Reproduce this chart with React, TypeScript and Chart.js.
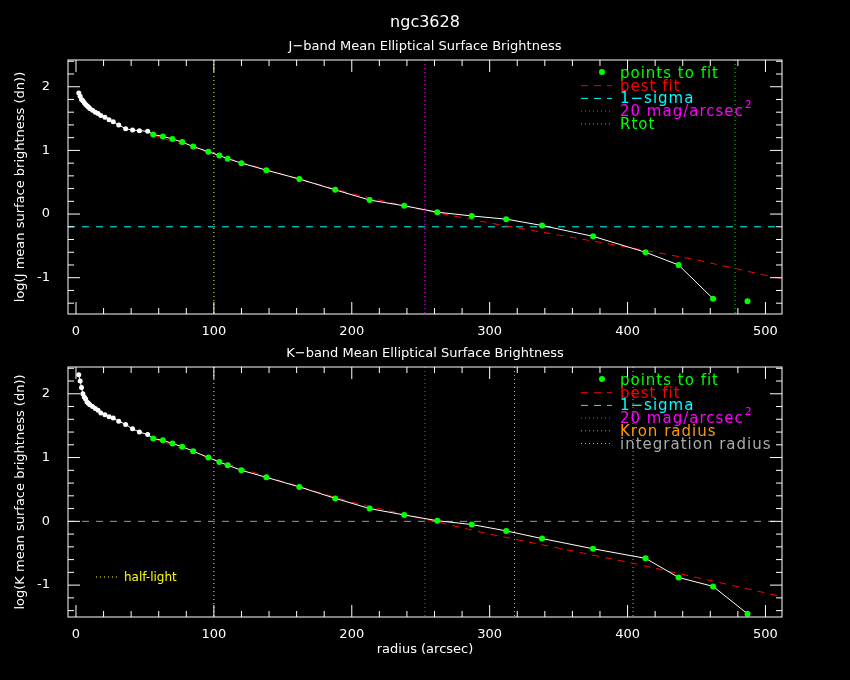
import { useEffect, useRef } from 'react';
import Chart from 'chart.js/auto';

// J band
const jInnerR = [2, 3, 4, 5, 6, 7, 8, 9, 10, 12, 14, 16, 18, 21, 24, 27, 31, 36, 41, 46, 52];
const jInnerY = [1.9, 1.85, 1.8, 1.78, 1.75, 1.72, 1.7, 1.68, 1.66, 1.63, 1.6, 1.58, 1.55, 1.52, 1.48, 1.45, 1.4, 1.34, 1.32, 1.31, 1.3];
const jFitR = [56, 63, 70, 77, 85, 96, 104, 110, 120, 138, 162, 188, 213, 238, 262, 287, 312, 338, 375, 413, 437, 462];
const jFitY = [1.25, 1.22, 1.18, 1.13, 1.06, 0.98, 0.92, 0.87, 0.8, 0.69, 0.55, 0.38, 0.22, 0.13, 0.03, -0.03, -0.08, -0.18, -0.35, -0.6, -0.8, -1.33];
const jExtraR = [487];
const jExtraY = [-1.37];
const jBestR = [56, 100, 150, 200, 250, 300, 350, 400, 450, 512];
const jBestY = [1.24, 0.94, 0.62, 0.32, 0.07, -0.14, -0.33, -0.52, -0.72, -1.02];

// K band
const kInnerR = [2, 3, 4, 5, 6, 7, 8, 9, 10, 12, 14, 16, 18, 21, 24, 27, 31, 36, 41, 46, 52];
const kInnerY = [2.3, 2.2, 2.1, 2.0, 1.95, 1.92, 1.87, 1.85, 1.83, 1.8, 1.77, 1.74, 1.7, 1.67, 1.64, 1.62, 1.57, 1.52, 1.45, 1.4, 1.36];
const kFitR = [56, 63, 70, 77, 85, 96, 104, 110, 120, 138, 162, 188, 213, 238, 262, 287, 312, 338, 375, 413, 437, 462, 487];
const kFitY = [1.3, 1.27, 1.22, 1.17, 1.1, 1.0, 0.93, 0.88, 0.8, 0.69, 0.54, 0.36, 0.2, 0.1, 0.01, -0.05, -0.15, -0.27, -0.43, -0.58, -0.88, -1.02, -1.45];
const kBestR = [56, 100, 150, 200, 250, 300, 350, 400, 450, 512];
const kBestY = [1.3, 0.97, 0.62, 0.3, 0.05, -0.2, -0.42, -0.64, -0.88, -1.18];

const xTicks = [0, 100, 200, 300, 400, 500];
const yTicks = [-1, 0, 1, 2];

const FONT = '"DejaVu Sans", sans-serif';
const pts = (r: number[], y: number[]) => r.map((v, i) => ({ x: v, y: y[i] }));

type Vline = { x: number; color: string };
type Legend = { text: string; color: string; kind: 'dot' | 'dash' | 'dot-line'; lineColor: string; sup?: boolean };

function makePlugin(opts: {
  vlines: Vline[]; hline: { y: number; color: string }; legend: Legend[];
  titles: { text: string; y: number; size: number }[]; ylabel: string; xlabel?: string; halfLight?: boolean;
}) {
  return {
    id: 'pg',
    beforeDatasetsDraw(chart: any) {
      const { ctx, chartArea: a, scales } = chart;
      const xs = scales.x, ys = scales.y;
      ctx.save();
      ctx.lineWidth = 1;
      ctx.setLineDash([7, 7]);
      ctx.strokeStyle = opts.hline.color;
      const hy = ys.getPixelForValue(opts.hline.y);
      ctx.beginPath(); ctx.moveTo(a.left, hy); ctx.lineTo(a.right, hy); ctx.stroke();
      ctx.setLineDash([1, 3]);
      for (const v of opts.vlines) {
        const px = xs.getPixelForValue(v.x);
        ctx.strokeStyle = v.color;
        ctx.beginPath(); ctx.moveTo(px, a.top); ctx.lineTo(px, a.bottom); ctx.stroke();
      }
      ctx.restore();
    },
    afterDraw(chart: any) {
      const { ctx, chartArea: a, scales } = chart;
      const xs = scales.x, ys = scales.y;
      ctx.save();
      ctx.strokeStyle = '#fff';
      ctx.lineWidth = 1;
      ctx.setLineDash([]);
      ctx.strokeRect(a.left, a.top, a.right - a.left, a.bottom - a.top);
      ctx.beginPath();
      for (let v = 0; v <= 500; v += 20) {
        const px = xs.getPixelForValue(v);
        const len = v % 100 === 0 ? 12 : 6;
        ctx.moveTo(px, a.bottom); ctx.lineTo(px, a.bottom - len);
        ctx.moveTo(px, a.top); ctx.lineTo(px, a.top + len);
      }
      for (let v = -1.4; v <= 2.41; v += 0.2) {
        const r = Math.round(v * 10) / 10;
        const py = ys.getPixelForValue(r);
        const len = Math.abs(r - Math.round(r)) < 0.01 ? 12 : 6;
        ctx.moveTo(a.left, py); ctx.lineTo(a.left + len, py);
        ctx.moveTo(a.right, py); ctx.lineTo(a.right - len, py);
      }
      ctx.stroke();
      ctx.fillStyle = '#fff';
      ctx.textAlign = 'center';
      for (const t of opts.titles) {
        ctx.font = `${t.size}px ${FONT}`;
        ctx.fillText(t.text, 425, t.y);
      }
      ctx.font = `13px ${FONT}`;
      if (opts.xlabel) ctx.fillText(opts.xlabel, (a.left + a.right) / 2, a.bottom + 36);
      ctx.save();
      ctx.translate(24, (a.top + a.bottom) / 2);
      ctx.rotate(-Math.PI / 2);
      ctx.fillText(opts.ylabel, 0, 0);
      ctx.restore();
      // legend
      ctx.textAlign = 'left';
      (ctx as any).letterSpacing = '1px';
      ctx.font = `15px ${FONT}`;
      opts.legend.forEach((l, i) => {
        const y = a.top + 13 + i * 12.7;
        ctx.strokeStyle = l.lineColor;
        ctx.fillStyle = l.lineColor;
        if (l.kind === 'dot') {
          ctx.beginPath(); ctx.arc(602, y - 1, 3, 0, Math.PI * 2); ctx.fill();
        } else {
          ctx.setLineDash(l.kind === 'dash' ? [7, 6] : [1, 3]);
          ctx.beginPath(); ctx.moveTo(581, y); ctx.lineTo(612, y); ctx.stroke();
          ctx.setLineDash([]);
        }
        ctx.fillStyle = l.color;
        ctx.fillText(l.text, 620, y + 5);
        if (l.sup) {
          const w = ctx.measureText(l.text).width;
          ctx.font = `11px ${FONT}`;
          ctx.fillText('2', 620 + w + 1, y - 3);
          ctx.font = `15px ${FONT}`;
        }
      });
      (ctx as any).letterSpacing = '0px';
      if (opts.halfLight) {
        const y = a.top + 210;
        ctx.strokeStyle = '#ffff00';
        ctx.setLineDash([1, 3]);
        ctx.beginPath(); ctx.moveTo(96, y); ctx.lineTo(118, y); ctx.stroke();
        ctx.fillStyle = '#ffff00';
        ctx.font = `12px ${FONT}`;
        ctx.fillText('half-light', 124, y + 4);
      }
      ctx.restore();
    },
  };
}

function Panel(props: {
  inner: { x: number; y: number }[]; fit: { x: number; y: number }[]; extra: { x: number; y: number }[];
  best: { x: number; y: number }[]; plugin: any; top: number; bottom: number; xTitle: boolean;
}) {
  const ref = useRef<HTMLCanvasElement>(null);
  useEffect(() => {
    if (!ref.current) return;
    const chart = new Chart(ref.current, {
      type: 'scatter',
      data: {
        datasets: [
          { data: props.best, showLine: true, borderColor: '#ff0000', borderWidth: 1, borderDash: [7, 6], pointRadius: 0, order: 3 },
          { data: [...props.inner, ...props.fit], showLine: true, borderColor: '#ffffff', borderWidth: 1, pointRadius: 0, order: 2 },
          { data: props.inner, pointRadius: 2.5, backgroundColor: '#ffffff', borderWidth: 0, order: 1 },
          { data: [...props.fit, ...props.extra], pointRadius: 3, backgroundColor: '#00ff00', borderWidth: 0, order: 0 },
        ],
      },
      options: {
        animation: false,
        responsive: false,
        plugins: { legend: { display: false }, tooltip: { enabled: false } },
        layout: { padding: { left: 0, right: 68, top: props.top, bottom: 0 } },
        scales: {
          x: {
            type: 'linear', min: -5.8, max: 512,
            grid: { display: false }, border: { display: false },
            afterBuildTicks: (s: any) => { s.ticks = xTicks.map((v) => ({ value: v })); },
            afterFit: (s: any) => { s.height = props.bottom; },
            ticks: { color: '#fff', font: { family: FONT, size: 13 }, padding: 2 },
          },
          y: {
            type: 'linear', min: props.xTitle ? -1.5 : -1.57, max: 2.42,
            grid: { display: false }, border: { display: false },
            afterBuildTicks: (s: any) => { s.ticks = yTicks.map((v) => ({ value: v })); },
            afterFit: (s: any) => { s.width = 68; },
            ticks: { color: '#fff', font: { family: FONT, size: 13 }, padding: 10 },
          },
        },
      },
      plugins: [props.plugin],
    });
    return () => chart.destroy();
  }, []);
  return <canvas ref={ref} width={850} height={340} style={{ display: 'block' }} />;
}

const jPlugin = makePlugin({
  vlines: [{ x: 100, color: '#ffff00' }, { x: 253, color: '#ff00ff' }, { x: 478, color: '#00dd00' }],
  hline: { y: -0.2, color: '#00ffff' },
  titles: [{ text: 'ngc3628', y: 27, size: 16 }, { text: 'J\u2212band Mean Elliptical Surface Brightness', y: 50, size: 13 }],
  ylabel: 'log(J mean surface brightness (dn))',
  legend: [
    { text: 'points to fit', color: '#00ff00', kind: 'dot', lineColor: '#00ff00' },
    { text: 'best fit', color: '#ff0000', kind: 'dash', lineColor: '#ff0000' },
    { text: '1\u2212sigma', color: '#00ffff', kind: 'dash', lineColor: '#00ffff' },
    { text: '20 mag/arcsec', color: '#ff00ff', kind: 'dot-line', lineColor: '#ff00ff', sup: true },
    { text: 'Rtot', color: '#00ff00', kind: 'dot-line', lineColor: '#00ff00' },
  ],
});

const kPlugin = makePlugin({
  vlines: [{ x: 100, color: '#ffff00' }, { x: 253, color: '#ff00ff' }, { x: 318, color: '#aaaaaa' }, { x: 404, color: '#ff9900' }],
  hline: { y: 0, color: '#9a9a9a' },
  titles: [{ text: 'K\u2212band Mean Elliptical Surface Brightness', y: 17, size: 13 }],
  ylabel: 'log(K mean surface brightness (dn))',
  xlabel: 'radius (arcsec)',
  halfLight: true,
  legend: [
    { text: 'points to fit', color: '#00ff00', kind: 'dot', lineColor: '#00ff00' },
    { text: 'best fit', color: '#ff0000', kind: 'dash', lineColor: '#ff0000' },
    { text: '1\u2212sigma', color: '#00ffff', kind: 'dash', lineColor: '#00ffff' },
    { text: '20 mag/arcsec', color: '#ff00ff', kind: 'dot-line', lineColor: '#ff00ff', sup: true },
    { text: 'Kron radius', color: '#ff9900', kind: 'dot-line', lineColor: '#ff9900' },
    { text: 'integration radius', color: '#aaaaaa', kind: 'dot-line', lineColor: '#aaaaaa' },
  ],
});

export default function App() {
  return (
    <div style={{ position: 'fixed', left: 0, top: 0, width: 850, height: 680, background: '#000' }}>
      <Panel inner={pts(jInnerR, jInnerY)} fit={pts(jFitR, jFitY)} extra={pts(jExtraR, jExtraY)}
        best={pts(jBestR, jBestY)} plugin={jPlugin} top={60} bottom={26} xTitle={false} />
      <Panel inner={pts(kInnerR, kInnerY)} fit={pts(kFitR, kFitY)} extra={[]}
        best={pts(kBestR, kBestY)} plugin={kPlugin} top={27} bottom={63} xTitle={true} />
    </div>
  );
}
